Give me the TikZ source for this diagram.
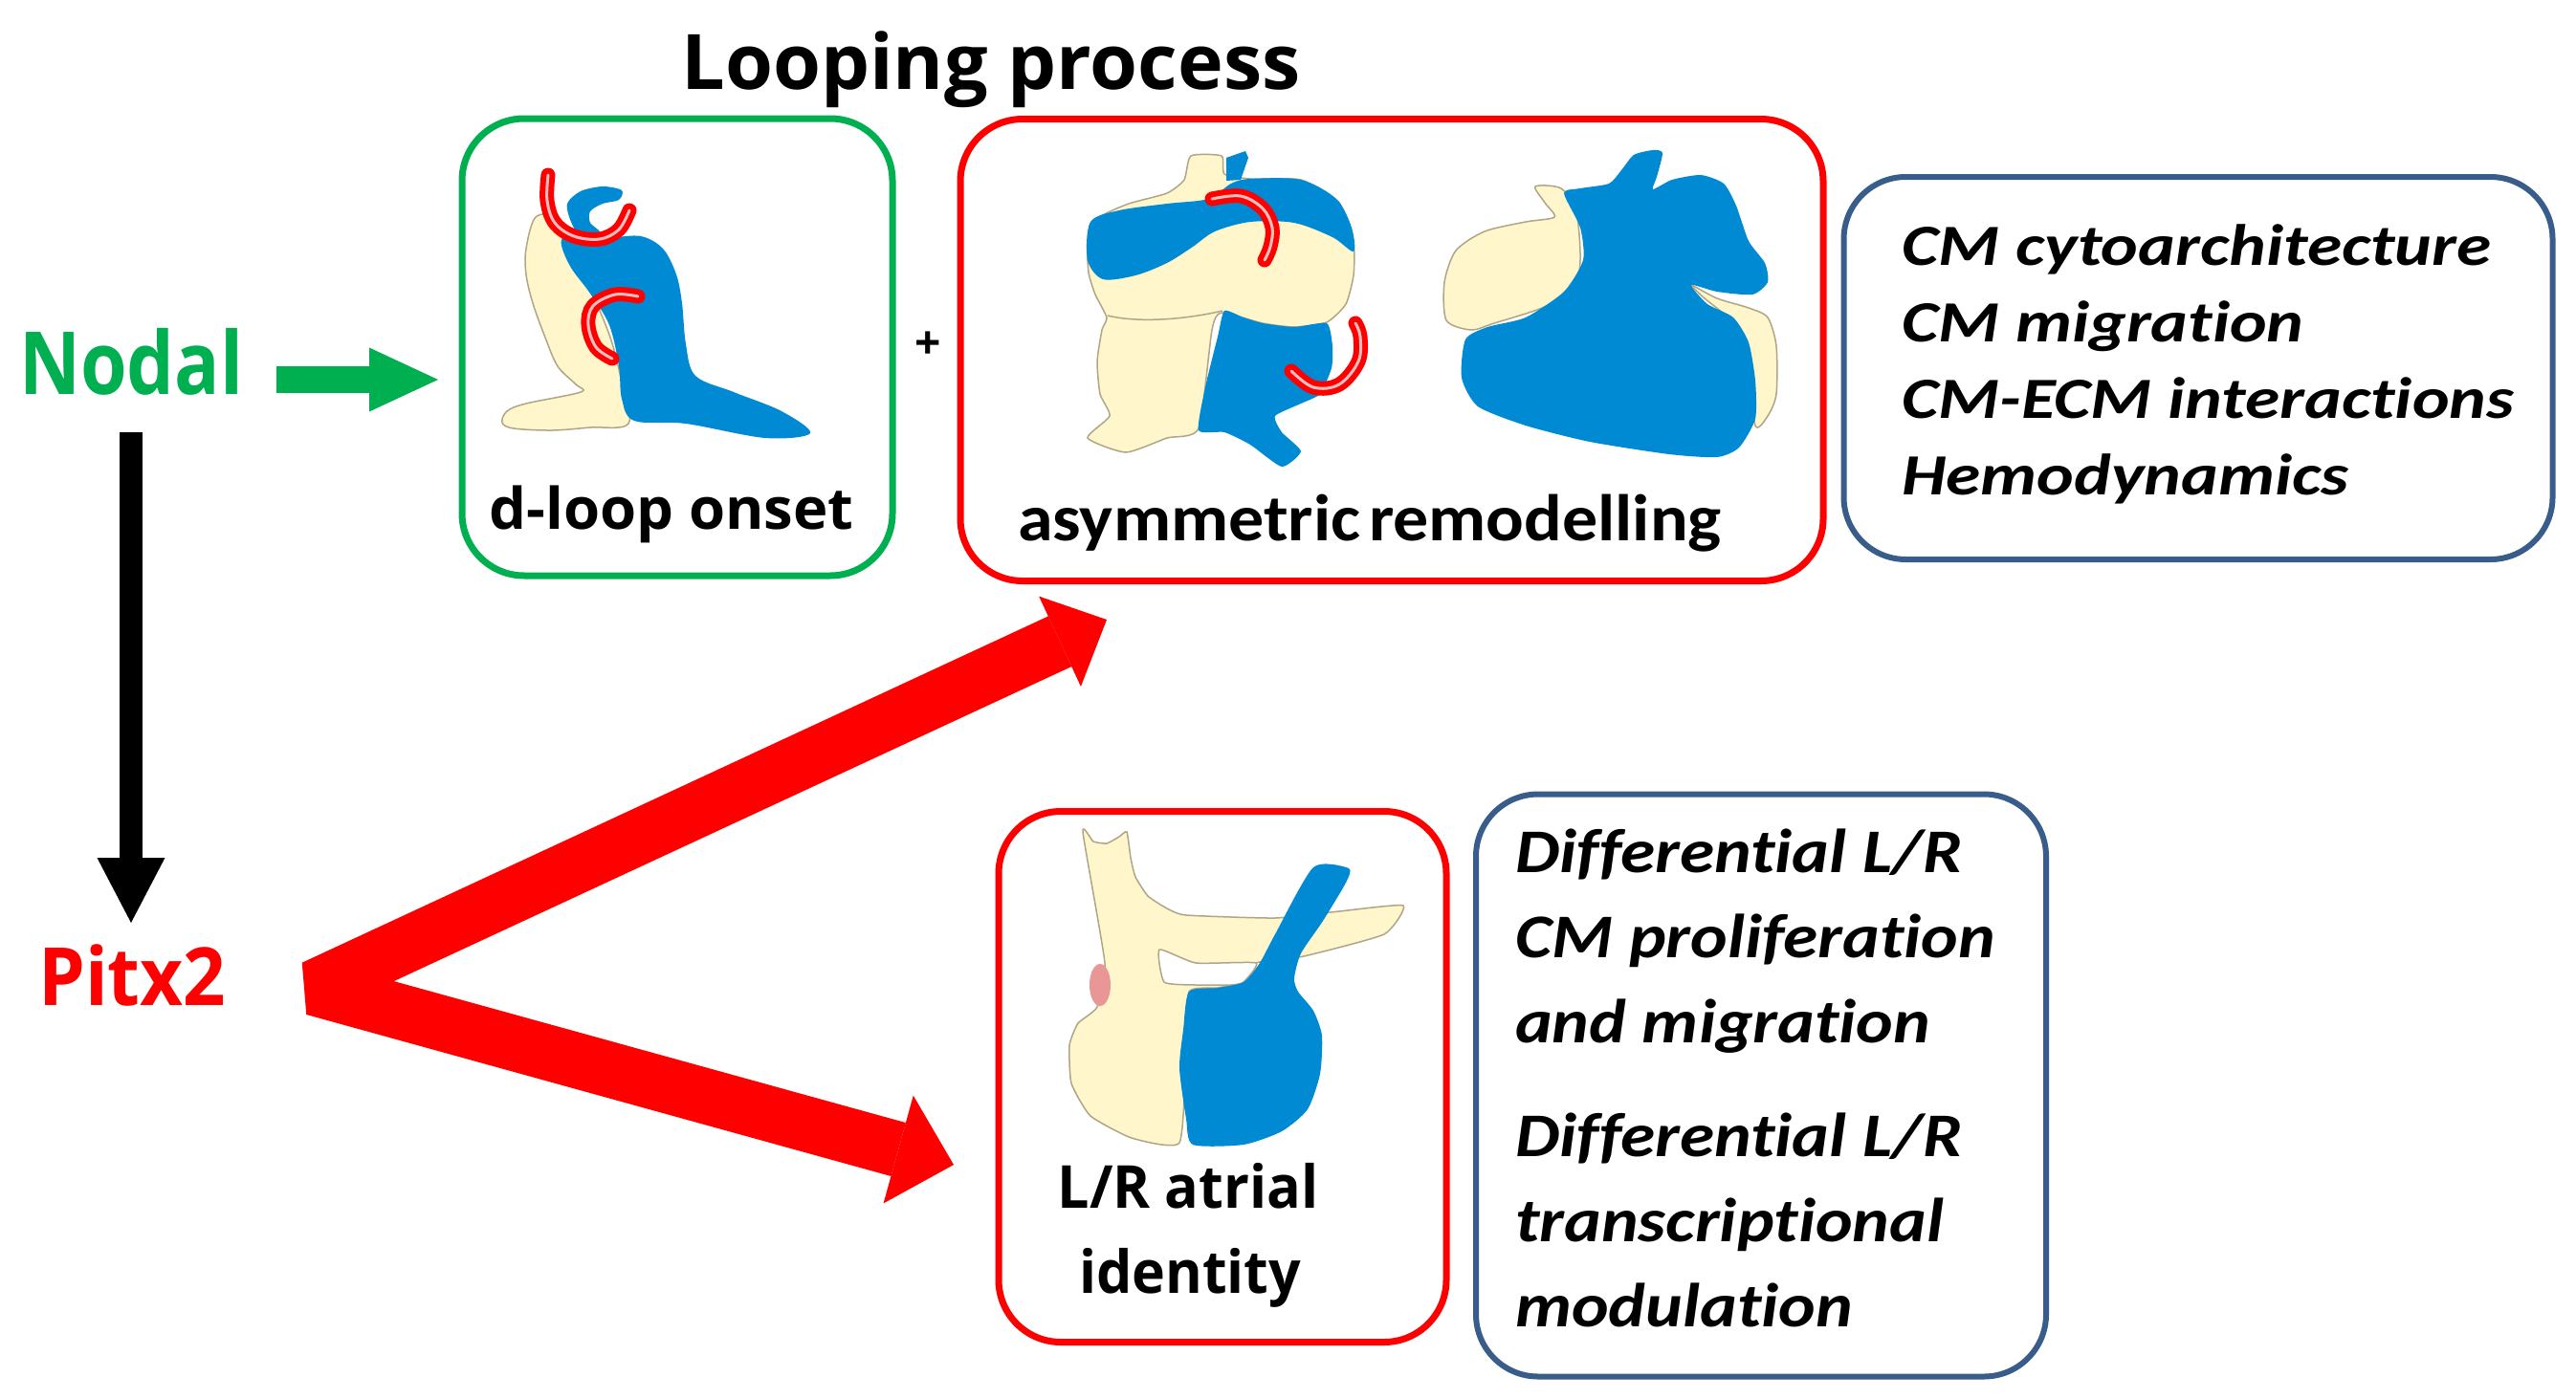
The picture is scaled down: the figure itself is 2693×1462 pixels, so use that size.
\documentclass[tikz,border=0pt]{standalone}
\usepackage{fontspec}
\usepackage{graphicx}
\usetikzlibrary{arrows.meta}
\newfontfamily\osans{Open Sans}
\newfontfamily\carl{Carlito}[Ligatures=NoCommon]
\definecolor{gre}{RGB}{0,176,80}
\definecolor{rd}{RGB}{255,0,0}
\definecolor{navy}{RGB}{56,93,138}
\definecolor{hblue}{RGB}{0,138,212}
\definecolor{cream}{RGB}{255,246,204}
\definecolor{creamline}{RGB}{175,165,135}
\definecolor{pinkish}{RGB}{232,150,150}
\newlength\fitlen
\newcommand\fitx[2]{\settowidth{\fitlen}{#2}\pgfmathsetmacro\fitfac{#1/\fitlen}\scalebox{\fitfac}[1]{#2}}
\newcommand\fitblock[3]{\settowidth{\fitlen}{#2}\pgfmathsetmacro\fitfac{#1/\fitlen}\scalebox{\fitfac}[1]{#3}}
\tikzset{
  gbox/.style={draw=gre, line width=7, rounded corners=65, inner sep=0},
  rbox/.style={draw=rd, line width=7, rounded corners=65, inner sep=0},
  bbox/.style={draw=navy, line width=6, rounded corners=65, inner sep=0},
  lbl/.style={inner sep=0, anchor=base},
  hcream/.style={fill=cream, draw=creamline, line width=1.5},
  hbluef/.style={fill=hblue},
  redcurl/.style={draw=rd, line width=6, double=white!75!rd, double distance=3, line cap=round},
  bigred/.style={rd, line width=58, line join=bevel},
}
\begin{document}
\begin{tikzpicture}[x=1pt, y=-1pt]
\fill[white] (0,0) rectangle (2693,1462);
\useasboundingbox (0,0) rectangle (2693,1462);

% ---------- boxes ----------
\node[gbox, minimum width=450, minimum height=478] (dloop) at (708,363) {};
\node[rbox, minimum width=902, minimum height=483] (remod) at (1455,366) {};
\node[bbox, minimum width=741, minimum height=400] (topinfo) at (2298,385) {};
\node[rbox, minimum width=468, minimum height=555] (atrial) at (1278,1126) {};
\node[bbox, minimum width=596, minimum height=609] (botinfo) at (1841,1135) {};

% ---------- heart 1: d-loop ----------
\path[hcream] plot[smooth cycle, tension=0.55] coordinates {(560,227) (550,260) (550,287) (557,317) (570,353) (583,383) (602,402) (607,410) (550,422) (530,430) (525,442) (537,448) (577,450) (617,447) (657,443) (650,400) (637,350) (610,287) (590,250) (583,227)};
\path[hbluef] plot[smooth cycle, tension=0.55] coordinates {(590,247) (607,243) (637,248) (670,247) (693,260) (707,287) (713,317) (717,360) (727,393) (767,410) (817,430) (847,453) (800,458) (717,443) (663,440) (650,417) (647,383) (637,340) (617,307) (597,280) (587,257)};
\path[hbluef] plot[smooth cycle, tension=0.5] coordinates {(597,232) (593,213) (607,200) (630,195) (650,199) (647,209) (630,213) (617,221) (617,233) (627,243) (607,247)};
\draw[redcurl] plot[smooth, tension=0.6] coordinates {(573,183) (572,210) (580,233) (600,247) (627,250) (647,240) (658,220)};
\draw[redcurl] plot[smooth, tension=0.6] coordinates {(667,310) (643,308) (620,320) (615,340) (623,363) (640,375)};

% ---------- heart 2: remodelling left ----------
\path[hcream] plot[smooth cycle, tension=0.35] coordinates {(1245,163) (1277,163) (1280,182) (1307,187) (1360,188) (1400,212) (1415,255) (1415,288) (1407,318) (1387,337) (1353,342) (1320,338) (1277,327) (1267,345) (1253,448) (1220,458) (1177,473) (1137,458) (1160,435) (1150,412) (1147,378) (1152,345) (1157,332) (1145,308) (1138,285) (1137,252) (1150,227) (1180,213) (1220,202) (1238,188)};
\path[hbluef] plot[smooth cycle, tension=0.5] coordinates {(1140,232) (1170,220) (1220,213) (1263,208) (1287,192) (1307,187) (1360,188) (1397,208) (1413,238) (1415,263) (1393,248) (1353,233) (1307,232) (1270,242) (1247,258) (1220,275) (1187,288) (1153,292) (1137,272)};
\path[hbluef] (1282,165) -- (1302,158) -- (1305,165) -- (1297,188) -- (1282,189) -- cycle;
\path[hbluef] plot[smooth cycle, tension=0.35] coordinates {(1280,325) (1300,332) (1320,338) (1353,342) (1387,338) (1393,362) (1392,385) (1380,412) (1360,422) (1333,435) (1340,452) (1360,472) (1340,488) (1307,465) (1280,452) (1253,450) (1260,405) (1273,352)};
\draw[creamline, line width=1.5] (1158,330) .. controls (1190,338) and (1240,334) .. (1278,325);
\draw[redcurl] plot[smooth, tension=0.6] coordinates {(1267,208) (1297,205) (1320,218) (1330,238) (1328,258) (1322,272)};
\draw[redcurl] plot[smooth, tension=0.6] coordinates {(1350,388) (1373,405) (1400,402) (1420,378) (1422,352) (1417,338)};

% ---------- heart 3: remodelling right ----------
\path[hcream] plot[smooth cycle, tension=0.45] coordinates {(1605,195) (1632,197) (1648,222) (1652,272) (1645,302) (1612,322) (1562,338) (1538,345) (1512,335) (1510,295) (1522,262) (1552,242) (1595,232) (1625,227) (1615,212)};
\path[hcream] plot[smooth cycle, tension=0.45] coordinates {(1768,298) (1795,312) (1828,322) (1848,332) (1857,362) (1857,412) (1848,435) (1835,445) (1828,378) (1812,338) (1782,312)};
\path[hbluef] plot[smooth cycle, tension=0.4] coordinates {(1695,178) (1708,162) (1728,157) (1738,160) (1732,185) (1728,198) (1748,188) (1778,183) (1802,192) (1815,215) (1828,252) (1845,275) (1848,295) (1832,308) (1795,305) (1768,298) (1785,318) (1812,332) (1828,358) (1835,398) (1835,438) (1818,468) (1795,478) (1745,475) (1662,462) (1595,445) (1545,425) (1528,395) (1532,355) (1555,342) (1595,332) (1635,305) (1655,272) (1652,238) (1635,202) (1652,197) (1682,192)};

% ---------- heart 4: L/R atrial ----------
\path[hcream] plot[smooth cycle, tension=0.3] coordinates {(1132,870) (1143,880) (1157,882) (1170,875) (1178,870) (1182,897) (1187,917) (1200,937) (1220,950) (1240,957) (1333,960) (1400,953) (1467,947) (1447,977) (1363,1000) (1313,1007) (1300,1027) (1273,1033) (1243,1037) (1240,1100) (1233,1195) (1183,1190) (1140,1167) (1120,1133) (1118,1093) (1127,1070) (1147,1053) (1155,1007)};
\path[fill=white, draw=creamline, line width=1.5] plot[smooth cycle, tension=0.3] coordinates {(1212,993) (1250,1007) (1313,1007) (1300,1027) (1287,1030) (1250,1030) (1217,1027)};
\path[hbluef] plot[smooth cycle, tension=0.4] coordinates {(1373,907) (1410,908) (1407,923) (1383,963) (1360,997) (1353,1023) (1357,1037) (1373,1057) (1382,1083) (1380,1123) (1367,1160) (1340,1183) (1300,1197) (1247,1197) (1240,1170) (1233,1117) (1237,1077) (1243,1037) (1273,1033) (1300,1027) (1317,1007) (1333,977)};
\fill[pinkish] (1150,1030) ellipse [x radius=11, y radius=22];

% ---------- text ----------
\node[lbl, font={\osans\bfseries\fontsize{80}{96}\selectfont}] (title) at (1036,93) {\fitx{647}{Looping process}};
\node[lbl, anchor=base west, text=gre, font={\osans\bfseries\fontsize{91}{100}\selectfont}] (nodal) at (20,412) {\fitx{234}{Nodal}};
\node[lbl, anchor=base west, text=rd, font={\osans\bfseries\fontsize{84}{100}\selectfont}] (pitx) at (40,1051) {\fitx{196}{Pitx2}};
\node[lbl, font={\osans\bfseries\fontsize{60}{72}\selectfont}] (dlooplbl) at (702,553) {\fitx{381}{d-loop onset}};
\node[lbl, font={\carl\bfseries\fontsize{69}{80}\selectfont}] (remodlbl) at (1432,565) {\fitx{736}{asymmetric\hspace{0.12em}remodelling}};
\node[lbl, font={\osans\bfseries\fontsize{48}{60}\selectfont}] (plus) at (970,375) {+};
\node[lbl, font={\osans\bfseries\fontsize{62}{72}\selectfont}] (atl1) at (1242,1263) {\fitx{273}{L/R atrial}};
\node[lbl, font={\osans\bfseries\fontsize{62}{72}\selectfont}] (atl2) at (1244,1352) {\fitx{232}{identity}};
\node[inner sep=0, anchor=base west, font={\carl\bfseries\itshape\fontsize{61}{80}\selectfont}] (toptext) at (1988,277)
  {\fitblock{640}{CM-ECM interactions}{\begin{tabular}[t]{@{}l@{}}CM cytoarchitecture\\CM migration\\CM-ECM interactions\\Hemodynamics\end{tabular}}};
\node[inner sep=0, anchor=base west, font={\carl\bfseries\itshape\fontsize{65}{89}\selectfont}] (bottext) at (1584,912)
  {\fitblock{502}{CM proliferation}{\begin{tabular}[t]{@{}l@{}}Differential L/R\\CM proliferation\\and migration\\[30pt]Differential L/R\\transcriptional\\modulation\end{tabular}}};

% ---------- connectors ----------
\coordinate (ga) at (289,397);
\coordinate (gb) at (458,397);
\draw[gre, line width=28, -{Triangle[width=67pt,length=72pt,line width=0pt]}] (ga) -- (gb);
\coordinate (ba) at (137,452);
\coordinate (bb) at (137,965);
\draw[black, line width=24, -{Triangle[width=71pt,length=68pt,line width=0pt]}] (ba) -- (bb);
\coordinate (rt) at (1157,648);
\coordinate (rv) at (328,1033);
\coordinate (rl) at (997,1218);
\draw[bigred, {Triangle[width=104pt,length=54pt,line width=0pt]}-{Triangle[width=117pt,length=60pt,line width=0pt]}] (rt) -- (rv) -- (rl);
\end{tikzpicture}
\end{document}
